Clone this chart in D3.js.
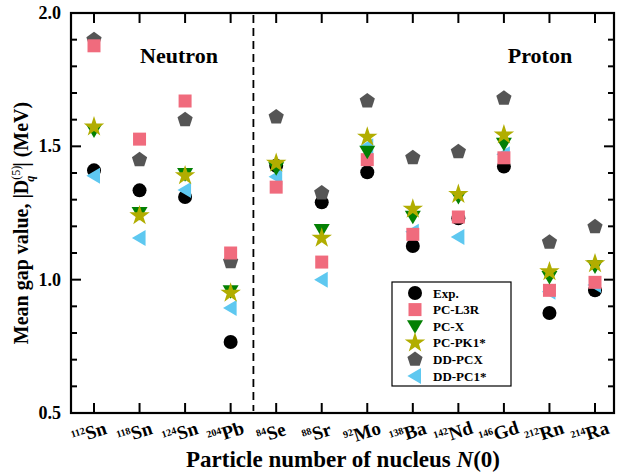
<!DOCTYPE html>
<html>
<head>
<meta charset="utf-8">
<script src="https://cdn.jsdelivr.net/npm/d3@7"></script>
<style>
body { margin: 0; background: #fff; }
text { font-family: "Liberation Serif", "Times New Roman", serif; font-weight: bold; }
</style>
</head>
<body>
<div id="chart"></div>
<script>
var nuclei = [["112","Sn"],["118","Sn"],["124","Sn"],["204","Pb"],["84","Se"],["88","Sr"],
              ["92","Mo"],["138","Ba"],["142","Nd"],["146","Gd"],["212","Rn"],["214","Ra"]];
var exp    = [1.41, 1.335, 1.31, 0.766, 1.427, 1.29, 1.403, 1.126, 1.23, 1.424, 0.875, 0.96];
var pcL3R  = [1.877, 1.527, 1.67, 1.10, 1.347, 1.066, 1.45, 1.17, 1.235, 1.457, 0.96, 0.99];
var pcX    = [1.56, 1.25, 1.396, 0.957, 1.418, 1.186, 1.48, 1.236, 1.31, 1.51, 1.01, 1.05];
var pcPK1  = [1.573, 1.24, 1.39, 0.95, 1.437, 1.156, 1.535, 1.265, 1.32, 1.543, 1.03, 1.06];
var ddPCX  = [1.90, 1.45, 1.60, 1.067, 1.61, 1.325, 1.67, 1.457, 1.48, 1.68, 1.14, 1.198];
var ddPC1  = [1.39, 1.156, 1.336, 0.894, 1.386, 1.0, 1.50, 1.18, 1.16, 1.47, 0.955, 0.98];
var yTicks = [0.5, 1.0, 1.5, 2.0];

var W = 617, H = 476;
var pl = 71, pr = 614, pt = 13, pb = 413;

var svg = d3.select("#chart").append("svg").attr("width", W).attr("height", H);

var x = d3.scalePoint().domain(d3.range(nuclei.length)).range([94, 595]);
var y = d3.scaleLinear().domain([0.5, 2.0]).range([pb, pt]);

// custom marker shapes
function pentagon(r) {
    var p = d3.path();
    for (var i = 0; i < 5; i++) {
        var a = -Math.PI / 2 + i * 2 * Math.PI / 5;
        if (i == 0) p.moveTo(r * Math.cos(a), r * Math.sin(a));
        else p.lineTo(r * Math.cos(a), r * Math.sin(a));
    }
    p.closePath();
    return p.toString();
}
function triDown(r) { return "M" + (-r) + "," + (-r * 0.75) + "L" + r + "," + (-r * 0.75) + "L0," + (r * 0.95) + "Z"; }
function triLeft(r) { return "M" + (-r * 0.95) + ",0L" + (r * 0.75) + "," + (-r) + "L" + (r * 0.75) + "," + r + "Z"; }
function square(r) { return "M" + (-r) + "," + (-r) + "h" + (2 * r) + "v" + (2 * r) + "h" + (-2 * r) + "Z"; }
function circle(r) { return d3.symbol(d3.symbolCircle, Math.PI * r * r)(); }
function star(r) { return d3.symbol(d3.symbolStar, r * r * 1.6)(); }

var series = [
    {name: "Exp.",     vals: exp,   color: "#000000", shape: function() { return circle(7); }},
    {name: "PC-L3R",   vals: pcL3R, color: "#f06b7d", shape: function() { return square(6.5); }},
    {name: "PC-X",     vals: pcX,   color: "#038003", shape: function() { return triDown(8); }},
    {name: "PC-PK1*",  vals: pcPK1, color: "#b1ad00", shape: function() { return star(9); }},
    {name: "DD-PCX",   vals: ddPCX, color: "#555555", shape: function() { return pentagon(8); }},
    {name: "DD-PC1*",  vals: ddPC1, color: "#5ec8f0", shape: function() { return triLeft(8); }}
];
var drawOrder = [0, 4, 5, 1, 2, 3];

// frame
svg.append("rect").attr("x", pl).attr("y", pt).attr("width", pr - pl).attr("height", pb - pt)
    .attr("fill", "none").attr("stroke", "#000").attr("stroke-width", 2.2);

// y ticks (inward on both sides)
var minor = d3.range(0.6, 2.0, 0.1).filter(function(v) { return Math.abs(v * 2 - Math.round(v * 2)) > 0.01; });
yTicks.forEach(function(v) {
    svg.append("line").attr("x1", pl).attr("x2", pl + 10).attr("y1", y(v)).attr("y2", y(v)).attr("stroke", "#000").attr("stroke-width", 2);
    svg.append("line").attr("x1", pr).attr("x2", pr - 10).attr("y1", y(v)).attr("y2", y(v)).attr("stroke", "#000").attr("stroke-width", 2);
    svg.append("text").attr("x", 61).attr("y", y(v) + 6).attr("text-anchor", "end").style("font-size", "18px").text(v.toFixed(1));
});
minor.forEach(function(v) {
    svg.append("line").attr("x1", pl).attr("x2", pl + 6).attr("y1", y(v)).attr("y2", y(v)).attr("stroke", "#000").attr("stroke-width", 2);
    svg.append("line").attr("x1", pr).attr("x2", pr - 6).attr("y1", y(v)).attr("y2", y(v)).attr("stroke", "#000").attr("stroke-width", 2);
});

// x ticks top and bottom
nuclei.forEach(function(n, i) {
    svg.append("line").attr("x1", x(i)).attr("x2", x(i)).attr("y1", pb).attr("y2", pb - 10).attr("stroke", "#000").attr("stroke-width", 2);
    svg.append("line").attr("x1", x(i)).attr("x2", x(i)).attr("y1", pt).attr("y2", pt + 10).attr("stroke", "#000").attr("stroke-width", 2);
    var t = svg.append("text").attr("transform", "translate(" + (x(i) - 3) + ",439) rotate(-18)").attr("text-anchor", "middle");
    t.append("tspan").attr("dy", "-7").style("font-size", "10px").text(n[0]);
    t.append("tspan").attr("dy", "7").style("font-size", "19px").text(n[1]);
});

// dashed separator
var sep = (x(3) + x(4)) / 2;
svg.append("line").attr("x1", sep).attr("x2", sep).attr("y1", pt + 2).attr("y2", pb - 2)
    .attr("stroke", "#000").attr("stroke-width", 1.8).attr("stroke-dasharray", "8,5");

svg.append("text").attr("x", 179).attr("y", 63).attr("text-anchor", "middle").style("font-size", "22px").text("Neutron");
svg.append("text").attr("x", 540).attr("y", 63).attr("text-anchor", "middle").style("font-size", "22px").text("Proton");

// markers
drawOrder.forEach(function(k) {
    var s = series[k];
    svg.append("g").selectAll("path").data(s.vals).enter().append("path")
        .attr("d", s.shape())
        .attr("transform", function(d, i) { return "translate(" + x(i) + "," + y(d) + ")"; })
        .attr("fill", s.color);
});

// legend
var lg = svg.append("g");
lg.append("rect").attr("x", 392).attr("y", 282).attr("width", 119).attr("height", 104)
    .attr("fill", "#fff").attr("stroke", "#000").attr("stroke-width", 1.2);
series.forEach(function(s, i) {
    var yy = 293 + i * 16.6;
    lg.append("path").attr("d", s.shape()).attr("transform", "translate(415," + yy + ")").attr("fill", s.color);
    lg.append("text").attr("x", 433).attr("y", yy + 4.5).style("font-size", "13px").text(s.name);
});

// axis titles
var xt = svg.append("text").attr("x", 343).attr("y", 467).attr("text-anchor", "middle").style("font-size", "23px");
xt.append("tspan").text("Particle number of nucleus ");
xt.append("tspan").style("font-style", "italic").text("N");
xt.append("tspan").text("(0)");

var yt = svg.append("text").attr("transform", "translate(28,223) rotate(-90)").attr("text-anchor", "middle").style("font-size", "20px");
yt.append("tspan").text("Mean gap value, |D");
yt.append("tspan").attr("dy", "-8").style("font-size", "12px").style("font-weight", "normal").text("(5)");
yt.append("tspan").attr("dx", "-16").attr("dy", "14").style("font-size", "12px").style("font-style", "italic").text("q");
yt.append("tspan").attr("dx", "9").attr("dy", "-6").text("| (MeV)");
</script>
</body>
</html>
